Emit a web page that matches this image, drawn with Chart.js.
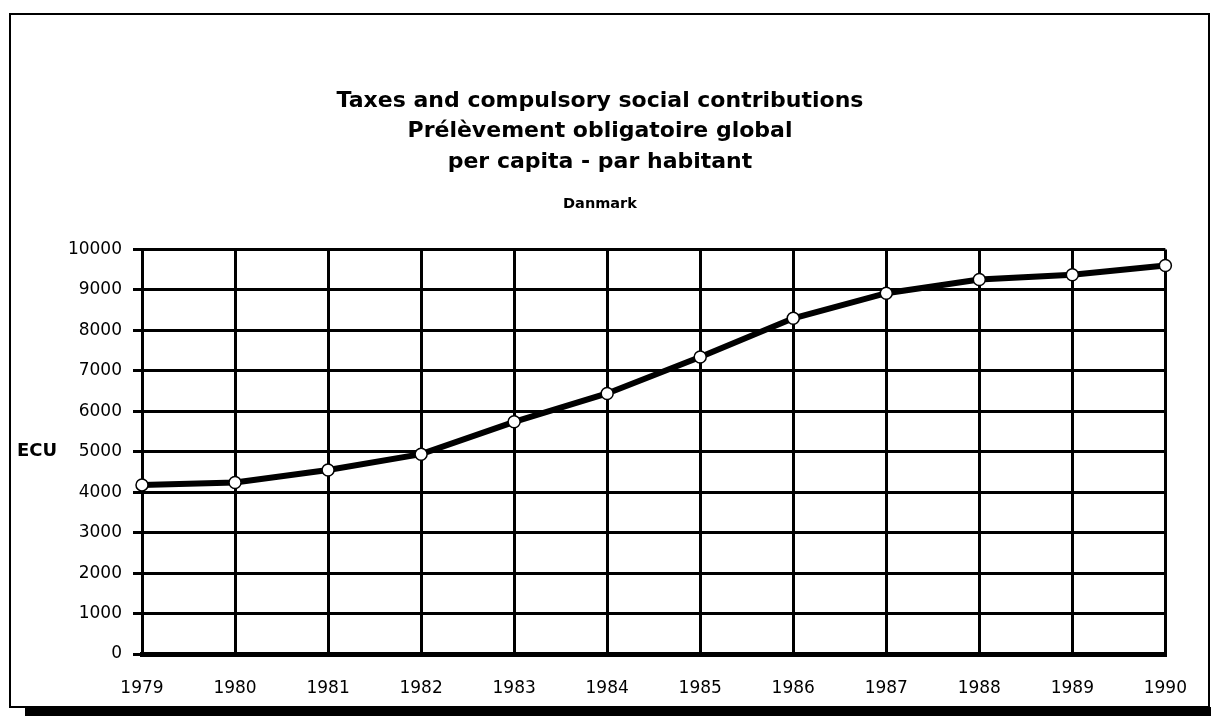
<!DOCTYPE html>
<html>
<head>
<meta charset="utf-8">
<script src="https://cdn.jsdelivr.net/npm/chart.js@4.4.0/dist/chart.umd.min.js"></script>
<style>
  html, body { margin: 0; padding: 0; background: #fff; }
  #wrap { width: 1211px; height: 716px; }
</style>
</head>
<body>
<div id="wrap"><canvas id="tax" width="1211" height="716"></canvas></div>
<script>
let years = ["1979","1980","1981","1982","1983","1984","1985","1986","1987","1988","1989","1990"];
let ecuPerCapita = [4180, 4240, 4550, 4940, 5740, 6440, 7340, 8300, 8920, 9260, 9375, 9605];
let yTicks = [0, 1000, 2000, 3000, 4000, 5000, 6000, 7000, 8000, 9000, 10000];
let titleLines = ["Taxes and compulsory social contributions", "Prélèvement obligatoire global", "per capita - par habitant"];
let countryName = "Danmark";
let unitLabel = "ECU";

// frame with drop shadow + the horizontal "ECU" label
const framePlugin = {
   id: "frame",
   beforeDraw(chart) {
      const c = chart.ctx;
      c.save();
      c.fillStyle = "#fff";
      c.fillRect(0, 0, chart.width, chart.height);
      c.fillStyle = "#000";
      c.fillRect(25, 707, chart.width - 25, 9);
      c.strokeStyle = "#000";
      c.lineWidth = 2;
      c.strokeRect(10, 14, 1199, 693);
      c.restore();
   },
   afterDraw(chart) {
      const c = chart.ctx;
      const y = chart.scales.y.getPixelForValue(5000);
      c.save();
      c.fillStyle = "#000";
      c.font = "bold 18px 'DejaVu Sans'";
      c.textBaseline = "middle";
      c.textAlign = "left";
      c.fillText(unitLabel, 17, y);
      c.restore();
   }
};

const ctx = document.getElementById("tax").getContext("2d");
const taxChart = new Chart(ctx, {
   type: "line",
   data: {
      labels: years,
      datasets: [{
         label: unitLabel,
         data: ecuPerCapita,
         borderColor: "#000",
         borderWidth: 6,
         tension: 0,
         pointRadius: 6,
         pointBorderWidth: 1.5,
         pointBackgroundColor: "#fff",
         pointBorderColor: "#000",
         clip: false
      }]
   },
   options: {
      responsive: false,
      animation: false,
      layout: {
         padding: { left: 32, right: 43, top: 0, bottom: 0 }
      },
      scales: {
         x: {
            offset: false,
            grid: { color: "#000", lineWidth: 3, drawTicks: false },
            border: { color: "#000", width: 5 },
            ticks: {
               color: "#000",
               padding: 24,
               maxRotation: 0,
               font: { family: "DejaVu Sans", size: 17 }
            },
            afterFit(scale) { scale.height = 62; }
         },
         y: {
            min: 0,
            max: 10000,
            afterBuildTicks(scale) { scale.ticks = yTicks.map(v => ({ value: v })); },
            grid: { color: "#000", lineWidth: 3, tickLength: 9, tickColor: "#000" },
            border: { color: "#000", width: 3 },
            ticks: {
               color: "#000",
               padding: 11,
               font: { family: "DejaVu Sans", size: 17 },
               callback: v => String(v)
            },
            afterFit(scale) { scale.width = 110; }
         }
      },
      plugins: {
         legend: { display: false },
         tooltip: { enabled: false },
         title: {
            display: true,
            text: titleLines,
            color: "#000",
            font: { family: "DejaVu Sans", size: 22, weight: "bold", lineHeight: 1.38 },
            padding: { top: 86, bottom: 18 }
         },
         subtitle: {
            display: true,
            text: countryName,
            color: "#000",
            font: { family: "DejaVu Sans", size: 14.5, weight: "bold", lineHeight: 1.2 },
            padding: { top: 0, bottom: 37 }
         }
      }
   },
   plugins: [framePlugin]
});
</script>
</body>
</html>
